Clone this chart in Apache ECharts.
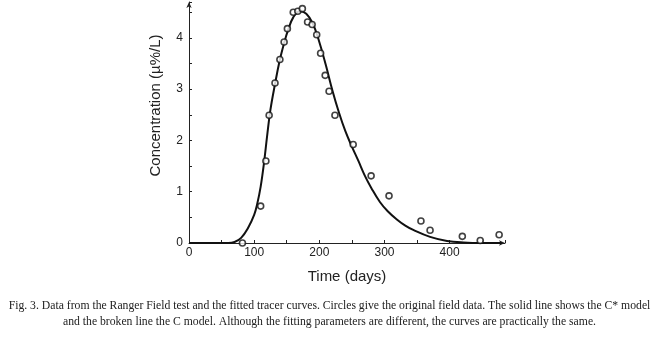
<!doctype html>
<html>
	<head>
		<meta charset="UTF-8">
		<title>Ranger Field test</title>
		<script src="https://cdn.jsdelivr.net/npm/echarts@6/dist/echarts.min.js"></script>
		<style>
			html, body { margin: 0; padding: 0; background: #fff; }
			#chart { width: 659px; height: 337px; }
		</style>
	</head>
	<body>
		<div id="chart"></div>
		<script>
			// field data (circles): time in days, concentration
			var fieldDays = [82, 110, 118, 123, 132, 139.5, 146, 151, 160, 167, 174, 182, 189, 196, 202, 209, 215, 224, 252, 279.5, 307, 356, 370, 419.5, 447, 476];
			var fieldConc = [0, 0.72, 1.6, 2.49, 3.12, 3.58, 3.92, 4.18, 4.5, 4.52, 4.57, 4.31, 4.26, 4.06, 3.7, 3.27, 2.96, 2.49, 1.92, 1.31, 0.92, 0.43, 0.25, 0.13, 0.05, 0.16];

			// fitted curve
			var curveDays = [0, 40, 60, 70, 80, 90, 100, 105, 110, 115, 120, 125, 132, 139, 146, 152, 160, 170, 180, 190, 200, 210, 220, 230, 240, 250, 260, 270, 280, 293, 305, 319, 332, 345, 370, 396, 421, 450, 480];
			var curveConc = [0, 0, 0, 0.02, 0.1, 0.28, 0.55, 0.78, 1.1, 1.55, 2.1, 2.6, 3.1, 3.55, 3.9, 4.15, 4.4, 4.52, 4.47, 4.28, 3.92, 3.47, 2.98, 2.55, 2.18, 1.88, 1.6, 1.31, 1.07, 0.8, 0.62, 0.46, 0.34, 0.25, 0.12, 0.04, 0.01, 0, 0];

			var captionLines = [
				'Fig. 3. Data from the Ranger Field test and the fitted tracer curves. Circles give the original field data. The solid line shows the C* model',
				'and the broken line the C model. Although the fitting parameters are different, the curves are practically the same.'
			];

			function pairs(xs, ys) {
				var out = [];
				for (var i = 0; i < xs.length; i++) {
					out.push([xs[i], ys[i]]);
				}
				return out;
			}

			var myChart = echarts.init(document.getElementById('chart'));
			var option = {
				backgroundColor: '#fff',
				animation: false,
				textStyle: { fontFamily: 'Liberation Sans, Arial, sans-serif' },
				graphic: captionLines.map(function(line, i) {
					return {
						type: 'text',
						x: 329.5,
						y: 300 + i * 16,
						style: {
							text: line,
							textAlign: 'center',
							textVerticalAlign: 'top',
							font: '11.7px "Liberation Serif", "Times New Roman", serif',
							fill: '#222'
						}
					};
				}),
				grid: {
					left: 189,
					right: 154,
					top: 2,
					bottom: 94
				},
				xAxis: {
					type: 'value',
					min: 0,
					max: 485,
					interval: 100,
					name: 'Time (days)',
					nameLocation: 'middle',
					nameGap: 26,
					nameTextStyle: { fontSize: 15, color: '#222' },
					axisLine: {
						show: true,
						symbol: ['none', 'arrow'],
						symbolSize: [4, 6],
						lineStyle: { color: '#222', width: 1 }
					},
					axisTick: { show: true, inside: true, length: 3, lineStyle: { color: '#222' } },
					minorTick: { show: true, splitNumber: 2, length: 3, lineStyle: { color: '#222' } },
					axisLabel: {
						fontSize: 12,
						color: '#222',
						margin: 4,
						showMaxLabel: false
					},
					splitLine: { show: false }
				},
				yAxis: {
					type: 'value',
					min: 0,
					max: 4.7,
					interval: 1,
					name: 'Concentration (µ%/L)',
					nameLocation: 'middle',
					nameGap: 26,
					nameTextStyle: { fontSize: 15, color: '#222', padding: [0, 0, 0, 34] },
					axisLine: {
						show: true,
						symbol: ['none', 'arrow'],
						symbolSize: [4, 6],
						lineStyle: { color: '#222', width: 1 }
					},
					axisTick: { show: true, inside: true, length: 3, lineStyle: { color: '#222' } },
					minorTick: { show: true, splitNumber: 2, length: 3, lineStyle: { color: '#222' } },
					axisLabel: {
						fontSize: 12,
						color: '#222',
						margin: 6,
						showMaxLabel: false
					},
					splitLine: { show: false }
				},
				series: [{
					name: 'C* model',
					type: 'line',
					data: pairs(curveDays, curveConc),
					smooth: 0.4,
					showSymbol: false,
					lineStyle: { color: '#111', width: 2 },
					z: 2
				}, {
					name: 'Field data',
					type: 'scatter',
					data: pairs(fieldDays, fieldConc),
					symbol: 'circle',
					symbolSize: 6,
					itemStyle: {
						color: '#fff',
						borderColor: '#111',
						borderWidth: 1.6
					},
					z: 3
				}]
			};
			myChart.setOption(option);
		</script>
	</body>
</html>
